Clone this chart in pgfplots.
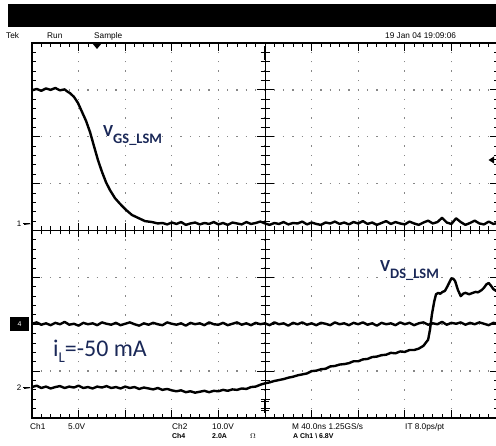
\documentclass[border=0pt]{standalone}
\usepackage{pgfplots}
\pgfplotsset{compat=1.18}
\usepackage{fontspec}
\setmainfont{Liberation Sans}
\newfontfamily\lab{Carlito}
\definecolor{labc}{RGB}{26,40,88}
\definecolor{dotc}{RGB}{135,135,135}
\begin{document}
\begin{tikzpicture}[x=1bp,y=1bp]
\useasboundingbox (0,0) rectangle (496,446);
\clip (0,0) rectangle (496,446);
\fill[white] (0,0) rectangle (496,446);
% header bar
\fill[black] (8,419) rectangle (496,442);
\begin{scope}[every node/.style={anchor=base west, inner sep=0pt, font=\fontsize{8.3}{8.3}\selectfont}]
\node at (6,407) {Tek};
\node at (47,407) {Run};
\node at (94,407) {Sample};
\node at (385,407) {19 Jan 04 19:09:06};
\node at (30,16) {Ch1};
\node at (68,16) {5.0V};
\node at (172,16) {Ch2};
\node at (212,16) {10.0V};
\node at (292,16) {M 40.0ns 1.25GS/s};
\node at (405,16) {IT 8.0ps/pt};
\node[font=\fontsize{7}{7}\selectfont\bfseries] at (172,7) {Ch4};
\node[font=\fontsize{7}{7}\selectfont\bfseries] at (212,7) {2.0A};
\node[font=\fontsize{7}{7}\selectfont] at (250,7) {$\Omega$};
\node[font=\fontsize{7}{7}\selectfont\bfseries] at (293,7) {A Ch1 \textbackslash\ 6.8V};
\end{scope}
\begin{axis}[at={(32bp,28bp)}, anchor=south west, scale only axis,
  width=466bp, height=375bp,
  xmin=0, xmax=10, ymin=-4, ymax=4,
  xtick={1,...,9}, ytick={-3,...,3},
  minor xtick={0,0.2,...,10}, minor ytick={-4,-3.8,...,4},
  xticklabels={}, yticklabels={},
  tick align=inside, tick pos=both,
  major tick length=8bp, minor tick length=4bp,
  tick style={black, line width=0.8bp},
  xmajorgrids, ymajorgrids,
  major x grid style={dotc, line width=1.3bp, dash pattern=on 1.3bp off 8.075bp, dash phase=0.65bp},
  major y grid style={dotc, line width=1.3bp, dash pattern=on 1.3bp off 8.02bp, dash phase=0.65bp},
  axis line style={black, line width=1.1bp},
  clip=false]
% V_GS (Ch1)
\addplot[black, line width=2.4bp, line join=round] coordinates {
(0,2.99) (0.1,3.02) (0.2,2.98) (0.3,3.03) (0.4,3.00) (0.5,3.04) (0.6,2.99) (0.7,3.01) (0.75,2.97)
(0.815,2.93) (0.901,2.85) (0.987,2.72) (1.073,2.53) (1.159,2.34) (1.245,2.10) (1.330,1.80)
(1.416,1.50) (1.502,1.25) (1.588,1.03) (1.674,0.86) (1.781,0.69) (1.888,0.57) (2.017,0.44)
(2.146,0.33) (2.275,0.27) (2.425,0.20) (2.575,0.18) (2.7,0.15)
(2.8,0.16) (2.9,0.13) (3.0,0.17) (3.1,0.14) (3.2,0.18) (3.3,0.12) (3.4,0.15) (3.5,0.17)
(3.6,0.13) (3.7,0.16) (3.8,0.14) (3.9,0.18) (4.0,0.13) (4.1,0.16) (4.2,0.12) (4.3,0.17)
(4.4,0.15) (4.5,0.13) (4.6,0.18) (4.7,0.14) (4.8,0.16) (4.9,0.19) (5.0,0.15) (5.1,0.12)
(5.2,0.16) (5.3,0.14) (5.4,0.18) (5.5,0.13) (5.6,0.16) (5.7,0.15) (5.8,0.19) (5.9,0.13)
(6.0,0.17) (6.1,0.14) (6.2,0.12) (6.3,0.17) (6.4,0.15) (6.5,0.19) (6.6,0.14) (6.7,0.17)
(6.8,0.13) (6.9,0.18) (7.0,0.15) (7.1,0.20) (7.2,0.14) (7.3,0.17) (7.4,0.12) (7.5,0.16)
(7.6,0.20) (7.7,0.14) (7.8,0.18) (7.9,0.15) (8.0,0.13) (8.1,0.19) (8.2,0.15) (8.3,0.12)
(8.4,0.17) (8.5,0.21) (8.6,0.15) (8.7,0.18) (8.8,0.27) (8.9,0.17) (9.0,0.14) (9.1,0.26)
(9.2,0.18) (9.3,0.12) (9.4,0.16) (9.5,0.21) (9.6,0.15) (9.7,0.13) (9.8,0.19) (9.9,0.14) (10.0,0.16)
};
% i_L (Ch4)
\addplot[black, line width=2.4bp, line join=round] coordinates {
(0,-1.99) (0.1,-1.96) (0.2,-2.01) (0.3,-1.98) (0.4,-2.02) (0.5,-1.97) (0.6,-2.00) (0.7,-1.95)
(0.8,-2.01) (0.9,-1.99) (1.0,-2.03) (1.1,-1.97) (1.2,-2.00) (1.3,-1.98) (1.4,-2.02) (1.5,-1.96)
(1.6,-1.99) (1.7,-2.01) (1.8,-1.97) (1.9,-2.02) (2.0,-1.99) (2.1,-1.96) (2.2,-2.00) (2.3,-2.03)
(2.4,-1.98) (2.5,-2.01) (2.6,-1.97) (2.7,-2.00) (2.8,-2.02) (2.9,-1.96) (3.0,-1.99) (3.1,-2.01)
(3.2,-1.98) (3.3,-2.03) (3.4,-1.97) (3.5,-2.00) (3.6,-1.98) (3.7,-2.02) (3.8,-1.96) (3.9,-2.00)
(4.0,-2.01) (4.1,-1.97) (4.2,-2.02) (4.3,-1.99) (4.4,-1.96) (4.5,-2.01) (4.6,-1.98) (4.7,-2.02)
(4.8,-1.97) (4.9,-2.00) (5.0,-1.98) (5.1,-2.02) (5.2,-1.96) (5.3,-2.00) (5.4,-1.98) (5.5,-2.03)
(5.6,-1.97) (5.7,-2.00) (5.8,-1.96) (5.9,-2.01) (6.0,-1.98) (6.1,-2.02) (6.2,-1.97) (6.3,-1.99)
(6.4,-2.02) (6.5,-1.96) (6.6,-2.00) (6.7,-1.98) (6.8,-2.02) (6.9,-1.97) (7.0,-2.00) (7.1,-1.96)
(7.2,-2.01) (7.3,-1.98) (7.4,-2.03) (7.5,-1.97) (7.6,-2.00) (7.7,-1.98) (7.8,-2.02) (7.9,-1.96)
(8.0,-2.00) (8.1,-1.97) (8.2,-2.02) (8.3,-1.98) (8.4,-1.96) (8.5,-2.01) (8.6,-1.98) (8.7,-2.00)
(8.8,-1.95) (8.9,-2.01) (9.0,-1.97) (9.1,-1.99) (9.2,-1.96) (9.3,-2.01) (9.4,-1.97) (9.5,-2.00)
(9.6,-1.96) (9.7,-1.99) (9.8,-2.02) (9.9,-1.97) (10.0,-1.99)
};
% V_DS (Ch2)
\addplot[black, line width=2.4bp, line join=round] coordinates {
(0,-3.34) (0.1,-3.31) (0.2,-3.36) (0.3,-3.33) (0.4,-3.37) (0.5,-3.34) (0.6,-3.32) (0.7,-3.36)
(0.8,-3.33) (0.9,-3.35) (1.0,-3.31) (1.1,-3.36) (1.2,-3.34) (1.3,-3.37) (1.4,-3.33) (1.5,-3.35)
(1.6,-3.32) (1.7,-3.36) (1.8,-3.34) (1.9,-3.37) (2.0,-3.33) (2.1,-3.36) (2.2,-3.34) (2.3,-3.38)
(2.4,-3.35) (2.5,-3.37) (2.6,-3.39) (2.7,-3.36) (2.8,-3.40) (2.9,-3.38) (3.0,-3.41) (3.1,-3.43)
(3.2,-3.41) (3.3,-3.45) (3.4,-3.43) (3.5,-3.46) (3.6,-3.44) (3.7,-3.42) (3.8,-3.45) (3.9,-3.42)
(4.0,-3.43) (4.1,-3.40) (4.2,-3.42) (4.3,-3.39) (4.4,-3.40) (4.5,-3.37) (4.6,-3.38) (4.7,-3.34)
(4.8,-3.33) (4.9,-3.29) (5.0,-3.26) (5.1,-3.24) (5.2,-3.21) (5.3,-3.19) (5.4,-3.17) (5.5,-3.14)
(5.6,-3.12) (5.7,-3.09) (5.8,-3.07) (5.9,-3.05) (6.0,-3.00) (6.1,-2.99) (6.2,-2.96) (6.3,-2.95)
(6.4,-2.90) (6.5,-2.89) (6.6,-2.86) (6.7,-2.85) (6.8,-2.83) (6.9,-2.79) (7.0,-2.79) (7.1,-2.75)
(7.2,-2.74) (7.3,-2.70) (7.4,-2.69) (7.5,-2.66) (7.6,-2.65) (7.7,-2.61) (7.8,-2.62) (7.9,-2.58)
(8.0,-2.59) (8.1,-2.55) (8.2,-2.55) (8.3,-2.52) (8.4,-2.46) (8.5,-2.33) (8.54,-2.12) (8.58,-1.80)
(8.63,-1.52) (8.67,-1.36) (8.72,-1.33) (8.76,-1.35) (8.81,-1.31) (8.86,-1.29) (8.91,-1.20)
(8.95,-1.12) (9.0,-1.02) (9.04,-1.03) (9.08,-1.08) (9.14,-1.27) (9.2,-1.40) (9.25,-1.35)
(9.3,-1.33) (9.38,-1.36) (9.46,-1.33) (9.52,-1.31) (9.57,-1.32) (9.65,-1.27) (9.7,-1.22)
(9.75,-1.15) (9.8,-1.12) (9.85,-1.18) (9.9,-1.25) (9.96,-1.29) (10.0,-1.27)
};
\end{axis}
% centre cross of the graticule
\draw[line width=1bp] (32,215.5) -- (498,215.5);
\draw[line width=1bp] (265,28) -- (265,403);
\foreach \i in {0,...,50} { \draw[line width=0.8bp] ({32+\i*9.32},211.5) -- ++(0,8); }
\foreach \i in {0,...,10} { \draw[line width=0.8bp] ({32+\i*46.6},208.5) -- ++(0,14); }
\foreach \i in {0,...,40} { \draw[line width=0.8bp] (260.5,{28+\i*9.375}) -- ++(9,0); }
\foreach \i in {0,...,8} { \draw[line width=0.8bp] (256.5,{28+\i*46.875}) -- ++(17,0); }
% centre markers
\draw[line width=1.6bp] (265,386) -- (265,400);
\draw[line width=1bp] (261,393) -- (269,393);
\draw[line width=1.6bp] (265,33) -- (265,46);
\draw[line width=1bp] (261,35) -- (269,35);
\draw[line width=1bp] (261,44) -- (269,44);
% trigger position and level
\fill (92,403) -- (102,403) -- (97,397) -- cycle;
\fill (488.5,286) -- (494,289.5) -- (494,282.5) -- cycle;
\draw[line width=1bp] (492,286) -- (496,286);
% channel ground markers
\node[anchor=base, inner sep=0pt, font=\fontsize{8}{8}\selectfont] at (19,219) {1};
\fill (24,223) -- (31,222) -- (24,221) -- cycle;
\draw[line width=1bp] (23,222) -- (30,222);
\fill[black] (10,115) rectangle (29,129);
\node[white, inner sep=0pt, font=\fontsize{7}{7}\selectfont] at (19.5,122) {4};
\node[anchor=base, inner sep=0pt, font=\fontsize{8}{8}\selectfont] at (19,55) {2};
\fill (24,59) -- (31,58) -- (24,57) -- cycle;
\draw[line width=1bp] (23,58) -- (30,58);
% annotations
\node[anchor=base west, inner sep=0pt, text=labc] at (103,309)
  {\lab\bfseries{\fontsize{17}{17}\selectfont V}\raisebox{-6.5bp}{\fontsize{14.5}{14.5}\selectfont GS\_LSM}};
\node[anchor=base west, inner sep=0pt, text=labc] at (380,174)
  {\lab\bfseries{\fontsize{17}{17}\selectfont V}\raisebox{-7bp}{\fontsize{14.5}{14.5}\selectfont DS\_LSM}};
\node[anchor=base west, inner sep=0pt, text=labc] at (53,89)
  {\lab{\fontsize{24}{24}\selectfont i}\raisebox{-6bp}{\fontsize{15}{15}\selectfont L}{\fontsize{24}{24}\selectfont =-50 mA}};
\end{tikzpicture}
\end{document}
